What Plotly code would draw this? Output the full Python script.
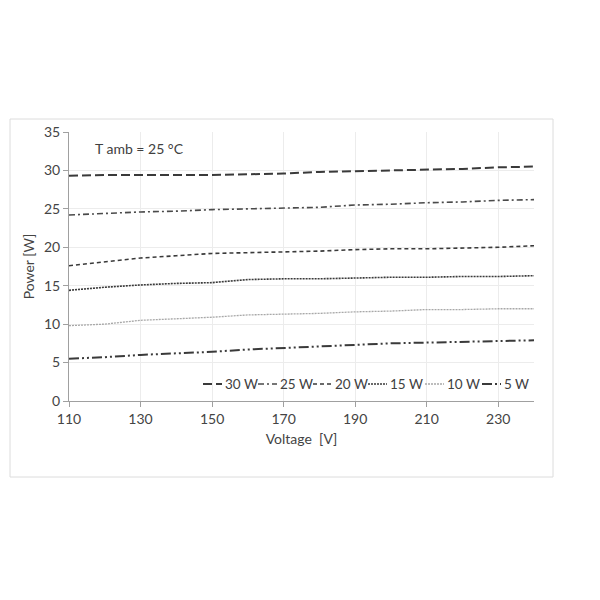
import plotly.graph_objects as go

voltage = [110, 120, 130, 140, 150, 160, 170, 180, 190, 200, 210, 220, 230, 240]
p30 = [29.3, 29.4, 29.4, 29.4, 29.4, 29.5, 29.6, 29.8, 29.9, 30.0, 30.1, 30.2, 30.4, 30.5]
p25 = [24.2, 24.4, 24.6, 24.7, 24.9, 25.0, 25.1, 25.2, 25.5, 25.6, 25.8, 25.9, 26.1, 26.2]
p20 = [17.6, 18.1, 18.6, 18.9, 19.2, 19.3, 19.4, 19.5, 19.7, 19.8, 19.8, 19.9, 20.0, 20.2]
p15 = [14.4, 14.8, 15.1, 15.3, 15.4, 15.8, 15.9, 15.9, 16.0, 16.1, 16.1, 16.2, 16.2, 16.3]
p10 = [9.8, 10.0, 10.5, 10.7, 10.9, 11.2, 11.3, 11.4, 11.6, 11.7, 11.9, 11.9, 12.0, 12.0]
p5 = [5.5, 5.7, 6.0, 6.2, 6.4, 6.7, 6.9, 7.1, 7.3, 7.5, 7.6, 7.7, 7.8, 7.9]

names = ["30 W", "25 W", "20 W", "15 W", "10 W", "5 W"]
series = [p30, p25, p20, p15, p10, p5]
x_ticks = [110, 130, 150, 170, 190, 210, 230]
y_ticks = [0, 5, 10, 15, 20, 25, 30, 35]

styles = [
    dict(color="#3a3a3a", width=2, dash="9px,4px"),
    dict(color="#4a4a4a", width=1.6, dash="6px,3px,2px,3px"),
    dict(color="#3a3a3a", width=1.6, dash="4px,3px"),
    dict(color="#3a3a3a", width=1.6, dash="2px,1px"),
    dict(color="#a8a8a8", width=1.3, dash="2px,1px"),
    dict(color="#3a3a3a", width=2, dash="10px,3px,2px,3px,2px,3px"),
]

fig = go.Figure()
for n, s, st in zip(names, series, styles):
    fig.add_trace(go.Scatter(x=voltage, y=s, name=n, mode="lines", line=st, showlegend=False))

# manual compact legend (Excel-like), positioned in paper coordinates
PL, PW = 69, 465          # plot-area left and width in px
PB, PH = 401, 269         # plot-area bottom and height in px
def px(xp):
    return (xp - PL) / PW
def py(yp):
    return (PB - yp) / PH

leg_y = py(384)
sample_x = [203, 258, 313, 368, 425, 482]
sample_w = 19
shapes = [dict(type="rect", xref="paper", yref="paper", x0=px(10), x1=px(553),
               y0=py(477), y1=py(119), line=dict(color="#dcdcdc", width=1),
               fillcolor="rgba(0,0,0,0)", layer="below")]
annotations = [dict(text="T amb = 25 °C", xref="paper", yref="paper", x=px(93), y=py(148),
                    xanchor="left", yanchor="middle", showarrow=False,
                    font=dict(size=14, color="#404040"))]
for n, st, sx in zip(names, styles, sample_x):
    shapes.append(dict(type="line", xref="paper", yref="paper", x0=px(sx), x1=px(sx + sample_w),
                       y0=leg_y, y1=leg_y, line=st))
    annotations.append(dict(text=n, xref="paper", yref="paper", x=px(sx + sample_w + 1), y=leg_y,
                            xanchor="left", yanchor="middle", showarrow=False,
                            font=dict(size=13.5, color="#404040")))

font = "Lato, 'Open Sans', sans-serif"
fig.update_layout(
    width=600, height=600,
    margin=dict(l=61, r=74, t=124, b=207),
    paper_bgcolor="white", plot_bgcolor="white",
    font=dict(family=font, size=14, color="#444444"),
    showlegend=False,
    xaxis=dict(range=[110, 240], tickvals=x_ticks, showgrid=True, gridcolor="#ececec",
               showline=True, linecolor="#a0a0a0", ticks="outside", ticklen=5,
               tickcolor="#a0a0a0", zeroline=False,
               title=dict(text="Voltage\u00a0 [V]", standoff=8, font=dict(size=14))),
    yaxis=dict(range=[0, 35], tickvals=y_ticks, showgrid=True, gridcolor="#ececec",
               showline=True, linecolor="#a0a0a0", ticks="outside", ticklen=5,
               tickcolor="#a0a0a0", zeroline=False,
               title=dict(text="Power [W]", standoff=6, font=dict(size=14))),
    annotations=annotations,
    shapes=shapes,
)
fig.write_html("out.html")
